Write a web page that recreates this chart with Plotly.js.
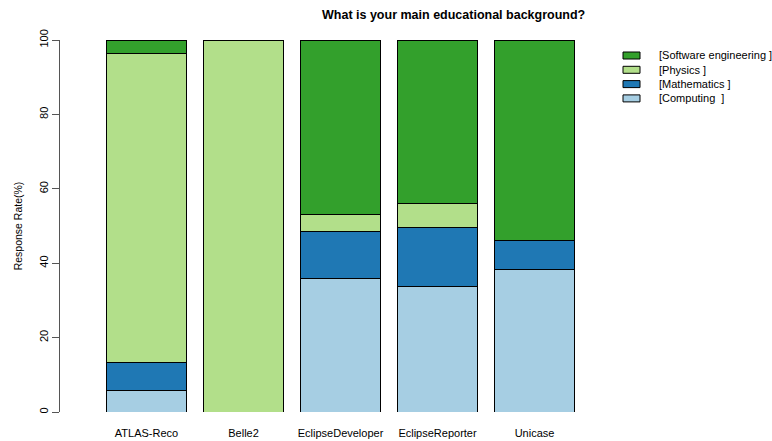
<!DOCTYPE html>
<html>
<head>
<meta charset="utf-8">
<script src="https://cdn.plot.ly/plotly-3.0.1.min.js"></script>
<style>html,body{margin:0;padding:0;background:#fff;}#chart{width:772px;height:441px;}</style>
</head>
<body>
<div id="chart"></div>
<script>
// Data (percent of responses)
const projects = ["ATLAS-Reco", "Belle2", "EclipseDeveloper", "EclipseReporter", "Unicase"];
const computing = [5.9, 0, 35.8, 33.7, 38.2];
const mathematics = [7.3, 0, 12.6, 15.9, 7.8];
const physics = [83.1, 100, 4.8, 6.4, 0];
const softwareEngineering = [3.7, 0, 46.8, 44.0, 54.0];
const seriesNames = ["[Computing  ]", "[Mathematics ]", "[Physics ]", "[Software engineering ]"];
const seriesColors = ["#a6cee3", "#1f78b4", "#b2df8a", "#33a02c"];
const seriesValues = [computing, mathematics, physics, softwareEngineering];

const font = "Liberation Sans, Arial, Helvetica, sans-serif";

const traces = seriesValues.map((vals, i) => ({
  type: "bar",
  x: projects,
  y: vals,
  name: seriesNames[i],
  marker: {color: seriesColors[i], line: {color: "#000", width: 1}},
  hoverinfo: "x+y+name",
  showlegend: false
}));

// Manual legend (R-style), top entry = last series
const shapes = [];
const annotations = [];
const legendOrder = [3, 2, 1, 0];
legendOrder.forEach((si, row) => {
  const yc = 55.5 + row * 14.3;
  shapes.push({
    type: "rect", xref: "paper", yref: "paper",
    x0: (623 - 60) / 530, x1: (640 - 60) / 530,
    y0: (412 - (yc - 3.5)) / 372, y1: (412 - (yc + 3.5)) / 372,
    fillcolor: seriesColors[si], line: {color: "#000", width: 1}
  });
  annotations.push({
    xref: "paper", yref: "paper",
    x: (657 - 60) / 530, y: (412 - yc) / 372,
    xanchor: "left", yanchor: "middle", showarrow: false,
    text: seriesNames[si].replace(/ /g, "\u00a0"),
    font: {family: font, size: 11, color: "#000"}
  });
});

annotations.push({
  xref: "paper", yref: "paper", x: (454 - 60) / 530, y: (412 - 15) / 372,
  xanchor: "center", yanchor: "middle", showarrow: false,
  text: "<b>What is your main educational background?</b>",
  font: {family: font, size: 12.5, color: "#000"}
});

const layout = {
  width: 772, height: 441,
  margin: {l: 60, r: 182, t: 40, b: 29, pad: 0},
  paper_bgcolor: "#fff", plot_bgcolor: "#fff",
  barmode: "stack",
  bargap: 0.167,
  font: {family: font, size: 11, color: "#000"},
  xaxis: {
    type: "category",
    range: [-0.892, 4.572],
    showline: false, showgrid: false, zeroline: false,
    ticks: "", ticklabelstandoff: 13,
    tickfont: {family: font, size: 11, color: "#000"}
  },
  yaxis: {
    range: [0, 100],
    tickvals: [0, 20, 40, 60, 80, 100],
    ticktext: ["0", "20", "40", "60", "80", "100"],
    showline: true, linecolor: "#555", linewidth: 1,
    ticks: "outside", ticklen: 7, tickcolor: "#555", tickwidth: 1,
    tickangle: -90,
    showgrid: false, zeroline: false,
    tickfont: {family: font, size: 11, color: "#000"},
    title: {text: "Response Rate(%)", font: {family: font, size: 10.5, color: "#000"}, standoff: 12}
  },
  shapes: shapes,
  annotations: annotations,
  showlegend: false
};

Plotly.newPlot("chart", traces, layout, {displayModeBar: false, staticPlot: true});
</script>
</body>
</html>
